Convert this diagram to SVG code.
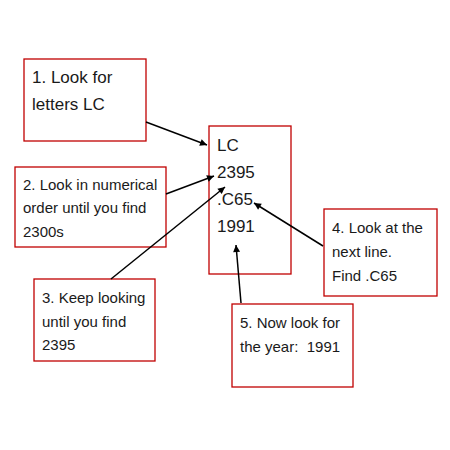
<svg xmlns="http://www.w3.org/2000/svg" width="450" height="450" viewBox="0 0 450 450">
<defs>
<marker id="ah" viewBox="0 0 10 10" refX="10" refY="5" markerWidth="7" markerHeight="7" markerUnits="userSpaceOnUse" orient="auto" overflow="visible">
<path d="M0,0 L10,5 L0,10 z" fill="#000"/>
</marker>
<style>
.box{fill:#fff;stroke:#c00000;stroke-width:1.3}
text{font-family:"Liberation Sans",Arial,sans-serif;fill:#1a1a1a;white-space:pre}
.big{font-size:17px}
.sm{font-size:15px}
.c{stroke:#000;stroke-width:1.5;fill:none;marker-end:url(#ah)}
</style>
</defs>
<rect width="450" height="450" fill="#fff"/>
<g id="node1">
<rect class="box" x="24" y="59" width="122" height="82"/>
<text class="big" x="32" y="83">1. Look for</text>
<text class="big" x="32" y="110">letters LC</text>
</g>
<g id="node2">
<rect class="box" x="15" y="167" width="151" height="80"/>
<text class="sm" x="23" y="190">2. Look in numerical</text>
<text class="sm" x="23" y="213">order until you find</text>
<text class="sm" x="23" y="237">2300s</text>
</g>
<g id="center">
<rect class="box" x="209" y="126" width="82" height="148"/>
<text class="big" x="217" y="151">LC</text>
<text class="big" x="217" y="178">2395</text>
<text class="big" x="217" y="205">.C65</text>
<text class="big" x="217" y="232">1991</text>
</g>
<g id="node3">
<rect class="box" x="34" y="279" width="121" height="82"/>
<text class="sm" x="42" y="303">3. Keep looking</text>
<text class="sm" x="42" y="327">until you find</text>
<text class="sm" x="42" y="350">2395</text>
</g>
<g id="node4">
<rect class="box" x="324" y="209" width="113" height="87"/>
<text class="sm" x="332" y="233">4. Look at the</text>
<text class="sm" x="332" y="257">next line.</text>
<text class="sm" x="332" y="281">Find .C65</text>
</g>
<g id="node5">
<rect class="box" x="232" y="304" width="121" height="83"/>
<text class="sm" x="240" y="328">5. Now look for</text>
<text class="sm" x="240" y="352">the year:  1991</text>
</g>
<g id="connectors">
<line class="c" x1="146" y1="122" x2="207" y2="145"/>
<line class="c" x1="166" y1="194" x2="214" y2="176"/>
<line class="c" x1="111" y1="279" x2="225" y2="187"/>
<line class="c" x1="323" y1="246" x2="254" y2="203"/>
<line class="c" x1="241" y1="303" x2="236" y2="245"/>
</g>
</svg>
